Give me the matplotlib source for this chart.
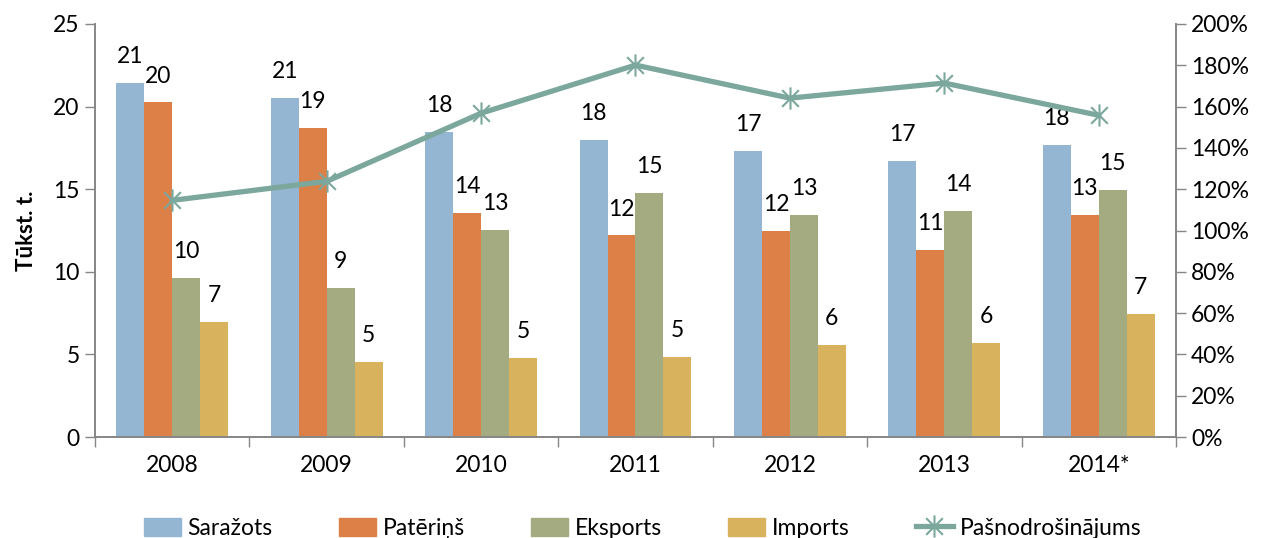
import numpy as np
import matplotlib
matplotlib.use('Agg')
from matplotlib import pyplot as plt
from matplotlib.path import Path
from matplotlib.lines import Line2D
from matplotlib.patches import Patch

plt.rcParams['font.family'] = ['Lato', 'DejaVu Sans']

years = ['2008', '2009', '2010', '2011', '2012', '2013', '2014*']
sarazots = [21.45, 20.55, 18.45, 18.0, 17.3, 16.7, 17.7]
paterins = [20.25, 18.7, 13.55, 12.2, 12.45, 11.3, 13.45]
eksports = [9.65, 9.05, 12.55, 14.75, 13.45, 13.7, 14.95]
imports = [6.95, 4.55, 4.8, 4.85, 5.6, 5.7, 7.45]
pasnodr = [114.6, 123.8, 156.8, 180.1, 164.1, 171.4, 155.8]

series = [('Saražots', sarazots, '#94B6D2'),
          ('Patēriņš', paterins, '#DD8047'),
          ('Eksports', eksports, '#A5AB81'),
          ('Imports', imports, '#D8B25C')]
line_color = '#7BA79D'

star = Path([(0, -1), (0, 1), (-0.75, -0.75), (0.75, 0.75), (-0.75, 0.75), (0.75, -0.75)],
            [Path.MOVETO, Path.LINETO, Path.MOVETO, Path.LINETO, Path.MOVETO, Path.LINETO])

fig = plt.figure(figsize=(12.65, 5.38), dpi=100)
ax = fig.add_axes([0.0751, 0.1877, 0.8545, 0.7677])
ax2 = ax.twinx()

x = np.arange(len(years))
w = 0.181
for i, (name, vals, col) in enumerate(series):
    pos = x + (i - 1.5) * w
    ax.bar(pos, vals, width=w, color=col, zorder=2)
    for px, v in zip(pos, vals):
        ax.annotate(f'{round(v + 1e-9):.0f}', (px, v), xytext=(0, 19), textcoords='offset points',
                    ha='center', va='center', fontsize=16.5)

ax2.plot(x, pasnodr, color=line_color, lw=3.8, marker=star, markersize=16,
         markeredgewidth=1.5, markeredgecolor=line_color, zorder=3)

ax.set_xlim(-0.5, len(years) - 0.5)
ax.set_ylim(0, 25)
ax2.set_ylim(0, 200)
ax.set_yticks(range(0, 26, 5))
ax2.set_yticks(range(0, 201, 20))
ax2.set_yticklabels([f'{t}%' for t in range(0, 201, 20)])
ax.set_xticks(x)
ax.set_xticklabels(years)
ax.set_xticks(np.arange(-0.5, len(years), 1), minor=True)
ax.tick_params(axis='x', which='major', length=0, pad=13, labelsize=16.5)
ax.tick_params(axis='x', which='minor', length=7, color='#868686', width=1)
ax.tick_params(axis='y', length=7, color='#868686', width=1, labelsize=16.5, pad=4)
ax2.tick_params(axis='y', length=7, color='#868686', width=1, labelsize=16.5, pad=4)

for a in (ax, ax2):
    a.spines['top'].set_visible(False)
    for s in ('left', 'right', 'bottom'):
        a.spines[s].set_color('#868686')
        a.spines[s].set_linewidth(1.2)
ax.set_ylabel('Tūkst. t.', fontsize=16, fontweight='bold', labelpad=12)

handles = [Patch(color=c, label=n) for n, _, c in series]
handles.append(Line2D([], [], color=line_color, lw=3.8, marker=star, markersize=16,
                      markeredgewidth=1.5, label='Pašnodrošinājums'))
fig.legend(handles=handles, loc='center', bbox_to_anchor=(0.508, 0.018), ncol=5,
           frameon=False, fontsize=16.5, handlelength=1.6, handleheight=0.8,
           columnspacing=2.9, handletextpad=0.3)

fig.savefig('out.png', dpi=100)
